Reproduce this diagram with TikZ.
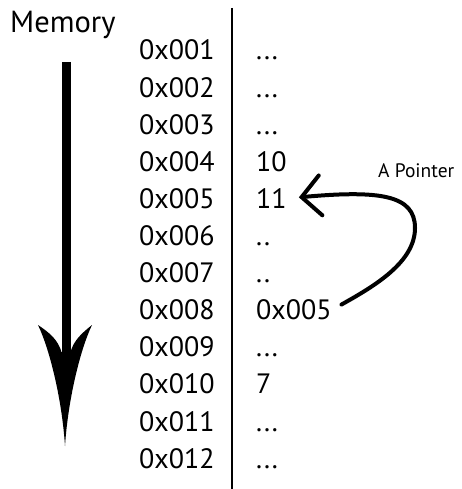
\documentclass[tikz,border=0pt]{standalone}
\usepackage{fontspec}
\setmainfont{PT Sans}
\usetikzlibrary{positioning, arrows.meta}

\newcommand{\threedots}{...}
\newcommand{\twodots}{..}

\begin{document}
\begin{tikzpicture}[
  x=1pt, y=-1pt,
  every node/.style={inner sep=0pt, anchor=base west},
  title/.style={font=\fontsize{30.5}{32}\selectfont},
  addr/.style={font=\fontsize{28}{30}\selectfont},
  cell/.style={font=\fontsize{28}{30}\selectfont},
  note/.style={font=\fontsize{19.5}{21}\selectfont},
  divider/.style={line width=1.2pt},
  ptr/.style={line width=4pt, line cap=round,
    -{Straight Barb[length=19pt, width=40pt, line cap=round]},
    shorten <=11pt, shorten >=12pt},
]
\useasboundingbox (0,0) rectangle (461,489);

%% Heading
\node[title] (memory) at (10,33) {Memory};

%% Address / value rows
\foreach \adr/\val [count=\i] in {0x001/\threedots, 0x002/\threedots,
    0x003/\threedots, 0x004/10, 0x005/11, 0x006/\twodots, 0x007/\twodots,
    0x008/0x005, 0x009/\threedots, 0x010/7, 0x011/\threedots,
    0x012/\threedots} {
  \node[addr] (adr\i) at (139,{60+37.1*(\i-1)}) {\adr};
  \node[cell] (val\i) at (256,{60+37.1*(\i-1)}) {\val};
}

%% Column divider
\coordinate (divtop) at (232,8);
\coordinate (divbot) at (232,489);
\draw[divider] (divtop) -- (divbot);

%% Memory direction arrow
\coordinate (flowtop) at (66,62);
\coordinate (flowtip) at (65,446);
\draw[line width=9pt] (flowtop) -- (66,356);
\fill (flowtip) .. controls (62,400) and (50,350) .. (38,325)
  .. controls (50,333) and (58,340) .. (61.5,352) -- (70.5,352)
  .. controls (74,340) and (82,333) .. (92,325)
  .. controls (80,350) and (68,400) .. (flowtip) -- cycle;

%% Pointer
\node[note] (pointer) at (378,177) {A Pointer};
\coordinate (bend) at (415,228);
\draw[ptr] (val8.east) .. controls +(43,-24) and (415,262) .. (bend)
  .. controls (415,195) and (380,190) .. (val5.east);

\end{tikzpicture}
\end{document}
